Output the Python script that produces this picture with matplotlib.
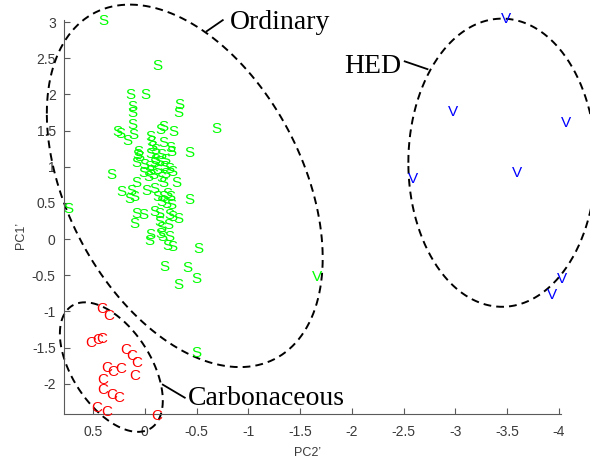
import numpy as np
import matplotlib
matplotlib.use("Agg")
import matplotlib.pyplot as plt

# Ordinary chondrites (S)
s_x = [0.40, -0.125, 0.138, -0.007, 0.116, 0.116, -0.33, -0.32, 0.116, 0.26,
       0.235, 0.17, 0.106, -0.058, -0.155, -0.18, -0.28, -0.695, -0.064, -0.07,
       -0.18, -0.25, 0.058, -0.434, 0.068, -0.05, -0.10, -0.16, -0.26, 0.08,
       0.0, -0.048, -0.097, -0.145, -0.193, -0.24, -0.27, 0.32, 0.016, -0.032,
       -0.08, -0.16, 0.08, -0.177, -0.306, 0.225, 0.128, 0.097, 0.145, -0.016,
       -0.097, -0.434, -0.16, -0.21, -0.26, 0.08, 0.016, -0.097, -0.145, -0.24,
       -0.27, -0.32, 0.097, -0.16, -0.225, -0.145, -0.055, -0.048, -0.15, -0.17,
       -0.24, -0.216, -0.27, -0.515, -0.193, -0.41, -0.5, -0.32, 0.74, -0.50,
       -0.10, -0.20, -0.05, -0.12, -0.20, -0.22, -0.18, -0.25, -0.12, 0.05]
s_y = [3.04, 2.42, 2.01, 2.01, 1.85, 1.76, 1.875, 1.77, 1.60, 1.50,
       1.47, 1.375, 1.46, 1.435, 1.53, 1.57, 1.50, 1.54, 1.365, 1.30,
       1.35, 1.28, 1.23, 1.21, 1.19, 1.20, 1.25, 1.18, 1.23, 1.07,
       1.04, 1.02, 1.07, 1.09, 1.02, 0.995, 0.95, 0.90, 0.93, 0.88,
       0.90, 0.86, 0.79, 0.79, 0.79, 0.67, 0.69, 0.60, 0.58, 0.69,
       0.72, 0.56, 0.53, 0.51, 0.49, 0.37, 0.35, 0.39, 0.37, 0.35,
       0.32, 0.30, 0.23, 0.18, 0.21, 0.25, 0.07, 0.0, 0.09, 0.05,
       0.05, -0.07, -0.09, -0.115, -0.37, -0.38, -0.53, -0.61, 0.43, -1.55,
       1.12, 1.12, 0.96, 0.98, 0.92, 0.65, 0.60, 0.60, 0.60, 1.15]

# Carbonaceous chondrites (C)
c_x = [0.415, 0.35, 0.52, 0.45, 0.415, 0.18, 0.125, 0.077, 0.097, 0.37,
       0.31, 0.23, 0.405, 0.405, 0.32, 0.25, 0.46, 0.37, -0.115]
c_y = [-0.94, -1.04, -1.42, -1.37, -1.36, -1.51, -1.60, -1.69, -1.87, -1.76,
       -1.82, -1.78, -1.93, -2.07, -2.13, -2.18, -2.32, -2.37, -2.42]

# HED achondrites (V)
v_x = [-3.485, -2.973, -4.07, -3.59, -2.59, -4.03, -3.93]
v_y = [3.06, 1.78, 1.63, 0.94, 0.85, -0.53, -0.75]

# misclassified V inside ordinary group
vg_x = [-1.66]
vg_y = [-0.51]

x_ticks = [0.5, 0, -0.5, -1, -1.5, -2, -2.5, -3, -3.5, -4]
x_labels = ["0.5", "0", "-0.5", "-1", "-1.5", "-2", "-2.5", "-3", "-3.5", "-4"]
y_ticks = [-2, -1.5, -1, -0.5, 0, 0.5, 1, 1.5, 2, 2.5, 3]
y_labels = ["-2", "-1.5", "-1", "-0.5", "0", "0.5", "1", "1.5", "2", "2.5", "3"]

sans = "Liberation Sans"
serif = "Liberation Serif"
axis_col = "#5a5a5a"

fig = plt.figure(figsize=(5.9, 4.63), dpi=100)
ax = fig.add_axes([0.1085, 0.1058, 0.8425, 0.851])

def letters(xs, ys, ch, col):
    for x, y in zip(xs, ys):
        ax.text(x, y, ch, color=col, fontsize=11, family=sans,
                ha="center", va="center_baseline")

letters(s_x, s_y, "S", "#00ff00")
letters(c_x, c_y, "C", "#ff0000")
letters(v_x, v_y, "V", "#0000ff")
letters(vg_x, vg_y, "V", "#00ff00")

# group outlines: x = cx + w cos t, y = cy + h cos(t - d)
t = np.linspace(0, 2 * np.pi, 500)
def outline(cx, cy, w, h, d):
    ax.plot(cx + w * np.cos(t), cy + h * np.cos(t - np.radians(d)),
            color="black", lw=1.4, ls=(0, (4, 2.6)), clip_on=False)

outline(-0.386, 0.736, 1.332, 2.507, 66.5)
outline(-3.45, 1.056, 0.905, 1.993, 90)
outline(0.323, -1.771, 0.497, 0.896, 59)

# labels with leader lines
ax.plot([-0.598, -0.753], [2.875, 3.028], color="black", lw=1.3, clip_on=False)
ax.text(-0.82, 3.04, "Ordinary", family=serif, fontsize=20,
        ha="left", va="center_baseline")
ax.plot([-2.51, -2.73], [2.458, 2.35], color="black", lw=1.3, clip_on=False)
ax.text(-2.48, 2.43, "HED", family=serif, fontsize=20,
        ha="right", va="center_baseline")
ax.plot([-0.174, -0.386], [-2.014, -2.194], color="black", lw=1.3, clip_on=False)
ax.text(-0.415, -2.16, "Carbonaceous", family=serif, fontsize=20,
        ha="left", va="center_baseline")

ax.set_xlim(0.78, -4.02)
ax.set_ylim(-2.42, 3.03)
ax.set_xticks(x_ticks)
ax.set_xticklabels(x_labels)
ax.set_yticks(y_ticks)
ax.set_yticklabels(y_labels)

for side in ["top", "right"]:
    ax.spines[side].set_visible(False)
for side in ["left", "bottom"]:
    ax.spines[side].set_color(axis_col)
    ax.spines[side].set_linewidth(0.8)
ax.tick_params(direction="in", length=4, width=0.8, color=axis_col,
               labelcolor="#3a3a3a", labelsize=10)
ax.tick_params(axis="y", pad=6)
ax.tick_params(axis="x", pad=8)
for lab in ax.get_xticklabels() + ax.get_yticklabels():
    lab.set_family(sans)

ax.set_xlabel("PC2\u2019", family=sans, fontsize=9, color="#3a3a3a")
ax.set_ylabel("PC1\u2019", family=sans, fontsize=9, color="#3a3a3a")
ax.xaxis.set_label_coords(0.489, -0.083)
ax.yaxis.set_label_coords(-0.075, 0.454)

fig.savefig("out.png", dpi=100)
